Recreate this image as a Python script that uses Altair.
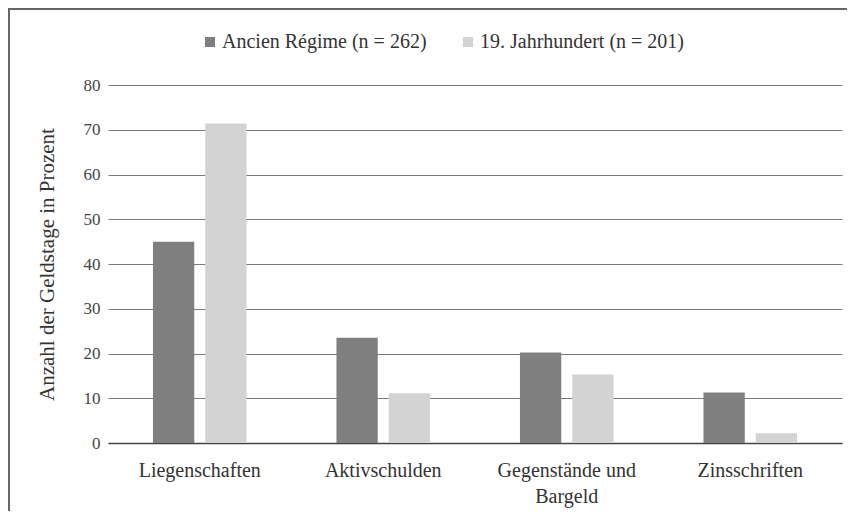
import altair as alt
import pandas as pd

categories = ["Liegenschaften", "Aktivschulden", "Gegenstände und Bargeld", "Zinsschriften"]
series = ["Ancien Régime (n = 262)", "19. Jahrhundert (n = 201)"]
ancien = [45.0, 23.5, 20.2, 11.3]
jh19 = [71.4, 11.1, 15.3, 2.2]
colors = ["#7f7f7f", "#d3d3d3"]
y_ticks = [0, 10, 20, 30, 40, 50, 60, 70, 80]

rows = []
for c, a, b in zip(categories, ancien, jh19):
    rows.append({"Kategorie": c, "Serie": series[0], "Wert": a})
    rows.append({"Kategorie": c, "Serie": series[1], "Wert": b})
df = pd.DataFrame(rows)

FONT = "Liberation Serif"
W, H = 734, 358

bars = alt.Chart(df).mark_bar().encode(
    x=alt.X(
        "Kategorie:N",
        sort=categories,
        scale=alt.Scale(paddingInner=0.49, paddingOuter=0.245),
        axis=alt.Axis(
            title=None,
            labelAngle=0,
            ticks=False,
            domain=True,
            domainColor="#444444",
            domainWidth=1.5,
            labelPadding=17,
            labelFontSize=20,
            labelColor="#333333",
            labelLineHeight=26,
            labelLimit=0,
            labelExpr="datum.value == 'Gegenstände und Bargeld' ? ['Gegenstände und', 'Bargeld'] : datum.label",
        ),
    ),
    xOffset=alt.XOffset(
        "Serie:N", sort=series, scale=alt.Scale(paddingInner=0.21, paddingOuter=0)
    ),
    y=alt.Y(
        "Wert:Q",
        scale=alt.Scale(domain=[0, 80]),
        axis=alt.Axis(
            values=y_ticks,
            title="Anzahl der Geldstage in Prozent",
            titleFontSize=21,
            titleFontWeight="normal",
            titleColor="#333333",
            titleX=-61,
            titleY=H / 2,
            titleAngle=-90,
            titleBaseline="middle",
            titleAlign="center",
            domain=False,
            ticks=False,
            labelPadding=8,
            labelFontSize=17,
            labelColor="#444444",
            grid=True,
            gridColor="#7a7a7a",
            gridWidth=1,
        ),
    ),
    color=alt.Color(
        "Serie:N",
        sort=series,
        scale=alt.Scale(domain=series, range=colors),
        legend=alt.Legend(
            title=None,
            orient="none",
            direction="horizontal",
            legendX=92,
            legendY=-53,
            padding=0,
            symbolType="square",
            symbolSize=100,
            symbolStrokeWidth=0,
            labelFontSize=20,
            labelColor="#333333",
            labelOffset=2,
            labelLimit=0,
            columnPadding=31,
        ),
    ),
)

border = pd.DataFrame({"k": [0]})
top_line = alt.Chart(border).mark_rule(color="#666666", strokeWidth=2).encode(
    x=alt.value(-100), x2=alt.value(W + 10), y=alt.value(-76)
)
left_line = alt.Chart(border).mark_rule(color="#666666", strokeWidth=2).encode(
    x=alt.value(-99), y=alt.value(-77), y2=alt.value(H + 80)
)

chart = (
    alt.layer(bars, top_line, left_line)
    .properties(
        width=W,
        height=H,
        autosize=alt.AutoSizeParams(type="none"),
        padding={"left": 100, "top": 77, "right": 5, "bottom": 68},
    )
    .configure(font=FONT)
    .configure_view(stroke=None)
)

chart.save("out.html", embed_options={"renderer": "svg", "actions": False})
